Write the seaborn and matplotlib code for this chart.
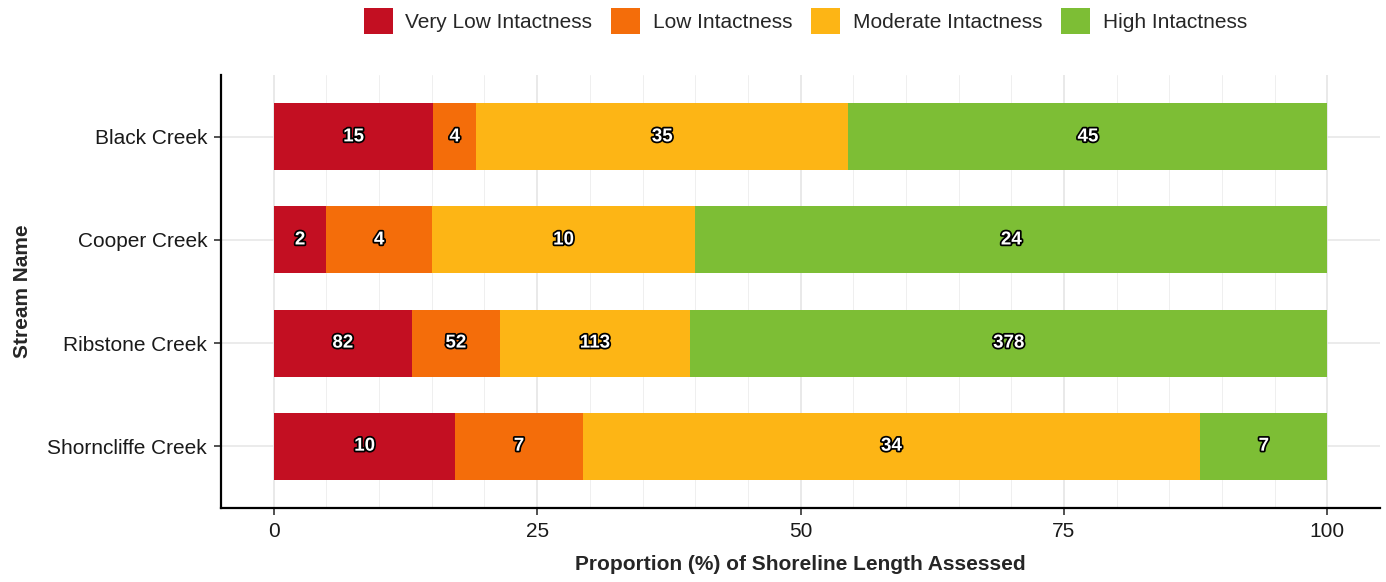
import seaborn as sns
import matplotlib.pyplot as plt
import matplotlib.patheffects as pe
from matplotlib.patches import Patch
import numpy as np
import pandas as pd

# counts per stream and intactness class
streams = ["Black Creek", "Cooper Creek", "Ribstone Creek", "Shorncliffe Creek"]
classes = ["Very Low Intactness", "Low Intactness", "Moderate Intactness", "High Intactness"]
very_low = [15, 2, 82, 10]
low = [4, 4, 52, 7]
moderate = [35, 10, 113, 34]
high = [45, 24, 378, 7]
colors = ["#C30F22", "#F46D0A", "#FDB515", "#7DBE35"]

counts = pd.DataFrame({classes[0]: very_low, classes[1]: low,
                       classes[2]: moderate, classes[3]: high}, index=streams)
pct = counts.div(counts.sum(axis=1), axis=0) * 100
cum = pct.cumsum(axis=1)

sns.set_style("white")
plt.rcParams['font.family'] = ['Liberation Sans', 'DejaVu Sans']

fig = plt.figure(figsize=(13.86, 5.82), dpi=100)
ax = fig.add_axes([0.1595, 0.1271, 0.8362, 0.744])

# stacked bars: draw cumulative totals from the back
for cls, col in zip(classes[::-1], colors[::-1]):
    df = pd.DataFrame({"stream": streams, "val": cum[cls].values})
    sns.barplot(data=df, x="val", y="stream", orient="h", color=col,
                width=0.65, saturation=1, linewidth=0, ax=ax, zorder=3)

# labels in segment centres
for i, s in enumerate(streams):
    start = 0
    for cls in classes:
        mid = start + pct.loc[s, cls] / 2
        t = ax.text(mid, i, str(counts.loc[s, cls]), ha="center", va="center",
                    color="white", fontsize=13.5, fontweight="bold", zorder=5)
        t.set_path_effects([pe.withStroke(linewidth=2.5, foreground="black")])
        start += pct.loc[s, cls]

ax.set_xlim(-5, 105)
ax.set_ylim(3.6, -0.6)
ax.set_xticks([0, 25, 50, 75, 100])
ax.set_xticks(np.arange(0, 101, 5), minor=True)
ax.grid(axis="x", which="major", color="#E3E3E3", linewidth=1.1, zorder=0)
ax.grid(axis="x", which="minor", color="#EFEFEF", linewidth=0.7, zorder=0)
ax.grid(axis="y", which="major", color="#E6E6E6", linewidth=1.1, zorder=0)
ax.set_axisbelow(True)

for side in ["top", "right"]:
    ax.spines[side].set_visible(False)
for side in ["left", "bottom"]:
    ax.spines[side].set_color("black")
    ax.spines[side].set_linewidth(1.6)

ax.tick_params(axis="both", which="major", length=5, width=1.2, color="#333333",
               labelsize=15, labelcolor="#1a1a1a", left=True, bottom=True, pad=5)
ax.tick_params(axis="x", which="minor", length=0)

ax.set_xlabel("Proportion (%) of Shoreline Length Assessed", fontsize=15,
              fontweight="bold", labelpad=10)
ax.set_ylabel("Stream Name", fontsize=15, fontweight="bold", labelpad=11)

handles = [Patch(facecolor=c, edgecolor="none", label=l) for c, l in zip(colors, classes)]
fig.legend(handles=handles, loc="center", bbox_to_anchor=(0.581, 0.964), ncol=4,
           frameon=False, fontsize=15, handlelength=1.4, handleheight=1.6,
           handletextpad=0.6, columnspacing=0.9)

fig.savefig("out.png", dpi=100)
